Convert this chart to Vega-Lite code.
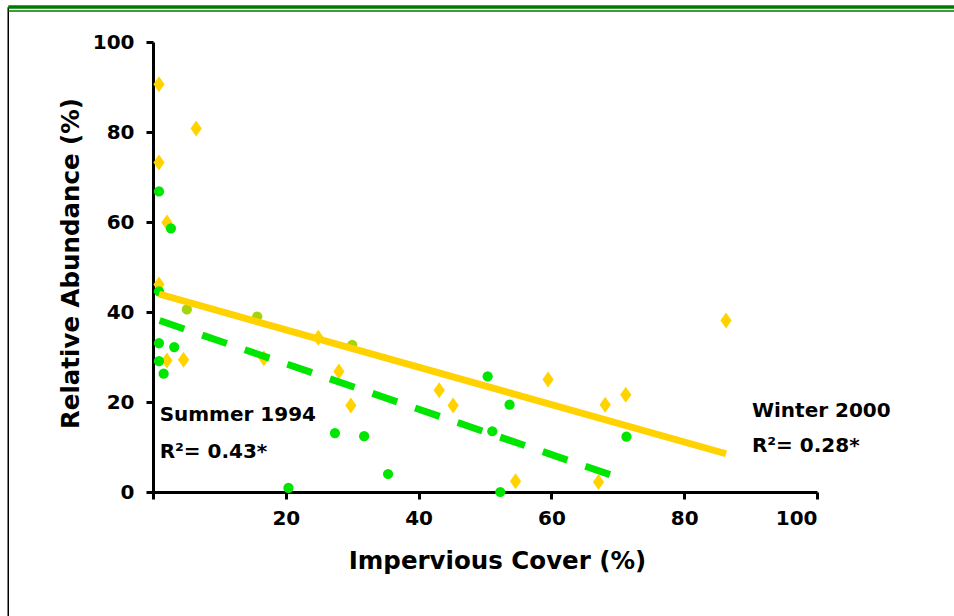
{
  "$schema": "https://vega.github.io/schema/vega-lite/v6.json",
  "width": 664,
  "height": 450,
  "autosize": {"type": "none"},
  "padding": {"left": 153, "top": 42, "right": 137, "bottom": 124},
  "background": "white",
  "config": {
    "view": {"stroke": null},
    "font": "DejaVu Sans",
    "axis": {
      "grid": false,
      "domainColor": "black",
      "domainWidth": 3,
      "tickColor": "black",
      "tickWidth": 3,
      "tickSize": 7,
      "labelColor": "black",
      "labelFont": "DejaVu Sans",
      "labelFontWeight": "bold",
      "labelFontSize": 20,
      "titleColor": "black",
      "titleFont": "DejaVu Sans",
      "titleFontWeight": "bold",
      "titleFontSize": 24.5
    }
  },
  "datasets": {
    "points": [
      {"impervious": 0.9, "abundance": 90.6, "season": "Winter 2000"},
      {"impervious": 0.9, "abundance": 73.2, "season": "Winter 2000"},
      {"impervious": 6.5, "abundance": 80.8, "season": "Winter 2000"},
      {"impervious": 2.1, "abundance": 59.9, "season": "Winter 2000"},
      {"impervious": 0.9, "abundance": 46.1, "season": "Winter 2000"},
      {"impervious": 2.1, "abundance": 29.2, "season": "Winter 2000"},
      {"impervious": 4.6, "abundance": 29.4, "season": "Winter 2000"},
      {"impervious": 16.7, "abundance": 29.7, "season": "Winter 2000"},
      {"impervious": 24.9, "abundance": 34.3, "season": "Winter 2000"},
      {"impervious": 28.0, "abundance": 26.8, "season": "Winter 2000"},
      {"impervious": 29.8, "abundance": 19.2, "season": "Winter 2000"},
      {"impervious": 43.1, "abundance": 22.6, "season": "Winter 2000"},
      {"impervious": 45.2, "abundance": 19.2, "season": "Winter 2000"},
      {"impervious": 54.6, "abundance": 2.4, "season": "Winter 2000"},
      {"impervious": 59.5, "abundance": 25.0, "season": "Winter 2000"},
      {"impervious": 68.1, "abundance": 19.4, "season": "Winter 2000"},
      {"impervious": 71.2, "abundance": 21.6, "season": "Winter 2000"},
      {"impervious": 67.1, "abundance": 2.2, "season": "Winter 2000"},
      {"impervious": 86.3, "abundance": 38.1, "season": "Winter 2000"},
      {"impervious": 0.9, "abundance": 66.8, "season": "Summer 1994"},
      {"impervious": 2.7, "abundance": 58.6, "season": "Summer 1994"},
      {"impervious": 0.9, "abundance": 44.6, "season": "Summer 1994"},
      {"impervious": 0.9, "abundance": 33.1, "season": "Summer 1994"},
      {"impervious": 3.2, "abundance": 32.2, "season": "Summer 1994"},
      {"impervious": 0.9, "abundance": 29.1, "season": "Summer 1994"},
      {"impervious": 1.6, "abundance": 26.3, "season": "Summer 1994"},
      {"impervious": 27.4, "abundance": 13.1, "season": "Summer 1994"},
      {"impervious": 31.8, "abundance": 12.4, "season": "Summer 1994"},
      {"impervious": 35.4, "abundance": 4.0, "season": "Summer 1994"},
      {"impervious": 20.4, "abundance": 0.9, "season": "Summer 1994"},
      {"impervious": 50.4, "abundance": 25.7, "season": "Summer 1994"},
      {"impervious": 53.7, "abundance": 19.4, "season": "Summer 1994"},
      {"impervious": 51.1, "abundance": 13.5, "season": "Summer 1994"},
      {"impervious": 52.3, "abundance": 0.0, "season": "Summer 1994"},
      {"impervious": 71.3, "abundance": 12.3, "season": "Summer 1994"},
      {"impervious": 5.1, "abundance": 40.6, "season": "Both"},
      {"impervious": 15.7, "abundance": 39.0, "season": "Both"},
      {"impervious": 30.0, "abundance": 32.7, "season": "Both"}
    ],
    "fits": [
      {"impervious": 1.0, "abundance": 38.1, "season": "Summer 1994"},
      {"impervious": 71.3, "abundance": 2.6, "season": "Summer 1994"},
      {"impervious": 0.9, "abundance": 44.0, "season": "Winter 2000"},
      {"impervious": 86.3, "abundance": 8.5, "season": "Winter 2000"}
    ],
    "notes": [
      {"impervious": 1.0, "abundance": 17.2, "note": "Summer 1994"},
      {"impervious": 1.0, "abundance": 9.0, "note": "R²= 0.43*"},
      {"impervious": 90.2, "abundance": 17.9, "note": "Winter 2000"},
      {"impervious": 90.2, "abundance": 10.3, "note": "R²= 0.28*"}
    ],
    "frame": [{}]
  },
  "layer": [
    {
      "data": {"name": "points"},
      "transform": [{"filter": "datum.season === 'Winter 2000'"}],
      "mark": {"type": "point", "shape": "M0,-1L0.7,0L0,1L-0.7,0Z", "filled": true, "size": 256, "color": "#FFD200", "opacity": 1},
      "encoding": {
        "x": {
          "field": "impervious", "type": "quantitative",
          "scale": {"domain": [0, 100], "nice": false, "zero": false},
          "axis": {
            "title": "Impervious Cover (%)",
            "values": [0, 20, 40, 60, 80, 100],
            "labelExpr": "datum.value == 0 ? '' : datum.label",
            "labelPadding": 9,
            "titlePadding": 21,
            "titleX": 344
          }
        },
        "y": {
          "field": "abundance", "type": "quantitative",
          "scale": {"domain": [0, 100], "nice": false, "zero": false},
          "axis": {
            "title": "Relative Abundance (%)",
            "values": [0, 20, 40, 60, 80, 100],
            "labelPadding": 12,
            "titlePadding": 9,
            "titleY": 221
          }
        }
      }
    },
    {
      "data": {"name": "points"},
      "transform": [{"filter": "datum.season !== 'Winter 2000'"}],
      "mark": {"type": "circle", "size": 105, "opacity": 1},
      "encoding": {
        "x": {"field": "impervious", "type": "quantitative"},
        "y": {"field": "abundance", "type": "quantitative"},
        "color": {
          "field": "season", "type": "nominal",
          "scale": {"domain": ["Summer 1994", "Both"], "range": ["#00E600", "#A6D40A"]},
          "legend": null
        }
      }
    },
    {
      "data": {"name": "fits"},
      "transform": [{"filter": "datum.season === 'Winter 2000'"}],
      "mark": {"type": "line", "color": "#FFD200", "strokeWidth": 7, "strokeCap": "butt"},
      "encoding": {
        "x": {"field": "impervious", "type": "quantitative"},
        "y": {"field": "abundance", "type": "quantitative"}
      }
    },
    {
      "data": {"name": "fits"},
      "transform": [{"filter": "datum.season === 'Summer 1994'"}],
      "mark": {"type": "line", "color": "#00E600", "strokeWidth": 7, "strokeCap": "butt", "strokeDash": [26, 19]},
      "encoding": {
        "x": {"field": "impervious", "type": "quantitative"},
        "y": {"field": "abundance", "type": "quantitative"}
      }
    },
    {
      "data": {"name": "notes"},
      "mark": {"type": "text", "align": "left", "baseline": "middle", "font": "DejaVu Sans", "fontWeight": "bold", "fontSize": 20, "color": "black"},
      "encoding": {
        "x": {"field": "impervious", "type": "quantitative"},
        "y": {"field": "abundance", "type": "quantitative"},
        "text": {"field": "note"}
      }
    },
    {
      "data": {"name": "frame"},
      "mark": {"type": "rule", "color": "black", "strokeWidth": 1.5, "clip": false},
      "encoding": {
        "x": {"datum": -21.8, "type": "quantitative"},
        "y": {"datum": 107.7, "type": "quantitative"},
        "y2": {"datum": -28}
      }
    },
    {
      "data": {"name": "frame"},
      "mark": {"type": "rule", "color": "#007A00", "strokeWidth": 3.5, "clip": false},
      "encoding": {
        "x": {"datum": -21.8, "type": "quantitative"},
        "x2": {"datum": 121},
        "y": {"datum": 107.8, "type": "quantitative"}
      }
    },
    {
      "data": {"name": "frame"},
      "mark": {"type": "rule", "color": "#007A00", "strokeWidth": 1.5, "clip": false},
      "encoding": {
        "x": {"datum": -21.8, "type": "quantitative"},
        "x2": {"datum": 121},
        "y": {"datum": 106.9, "type": "quantitative"}
      }
    }
  ]
}
